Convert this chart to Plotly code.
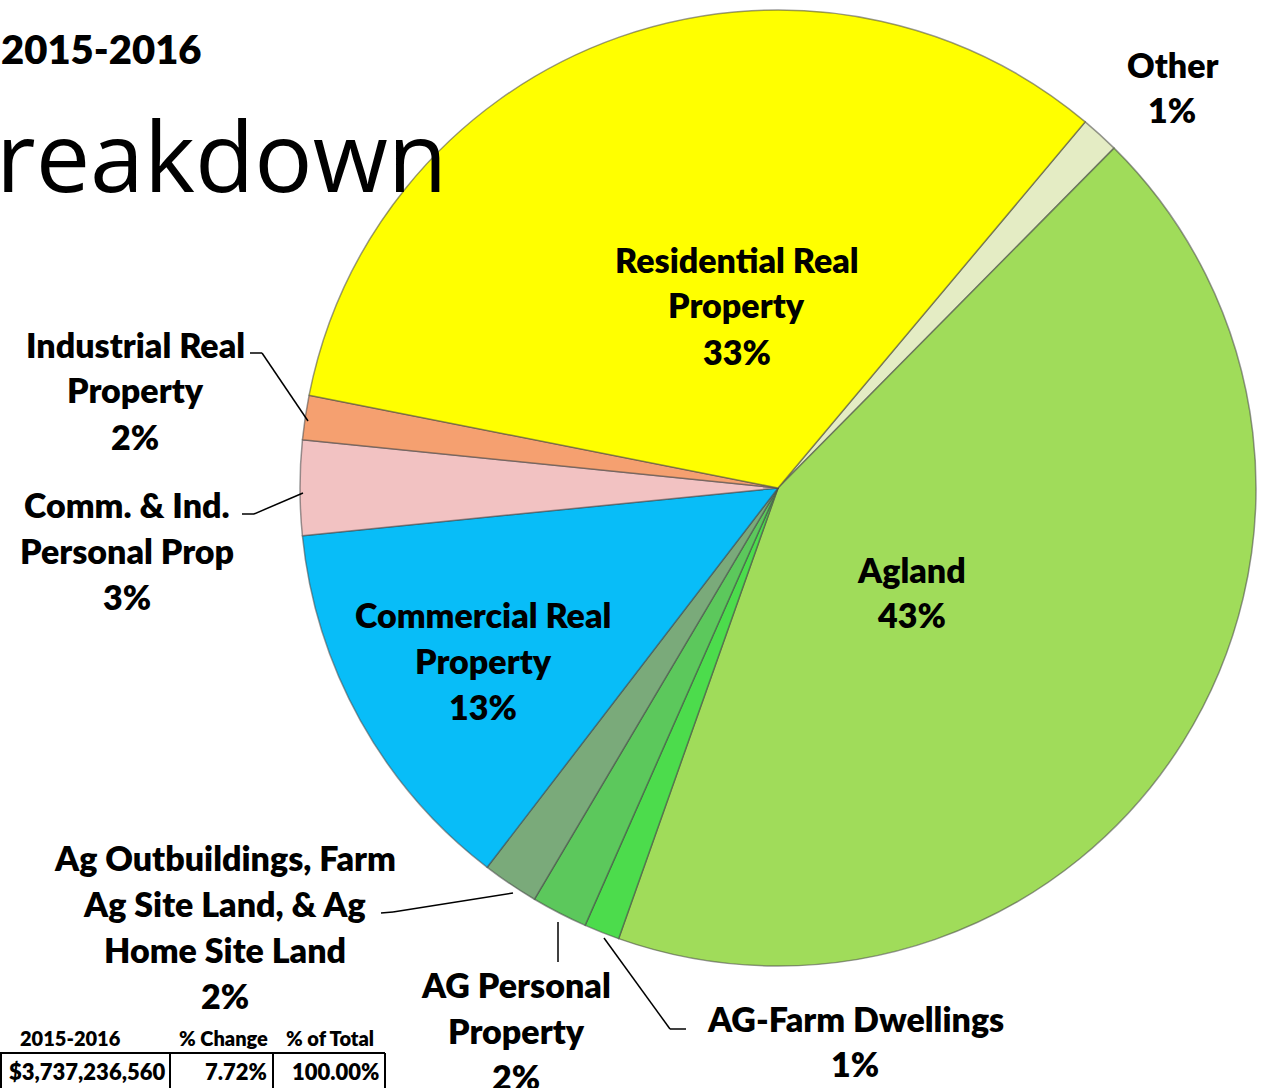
import plotly.graph_objects as go

W, H = 1272, 1088

# ---- data ----
categories = ["Other", "Agland", "AG-Farm Dwellings", "AG Personal Property",
              "Ag Outbuildings, Farm Ag Site Land, & Ag Home Site Land",
              "Commercial Real Property", "Comm. & Ind. Personal Prop",
              "Industrial Real Property", "Residential Real Property"]
values = [1.3, 43.0, 1.2, 1.9, 1.9, 13.0, 3.2, 1.5, 33.0]
pct_labels = ["1%", "43%", "1%", "2%", "2%", "13%", "3%", "2%", "33%"]
colors = ["#e4ecc4", "#a0dc5a", "#4cdc4c", "#5cc85c", "#7aaa7a",
          "#08bdf8", "#f2c2c2", "#f5a070", "#ffff00"]

table_header = ["2015-2016", "% Change", "% of Total"]
table_row = ["$3,737,236,560", "7.72%", "100.00%"]


def px(x, y):
    return x / W, 1 - y / H


fig = go.Figure()
fig.add_trace(go.Pie(
    labels=categories, values=values, sort=False, direction="clockwise",
    rotation=40, textinfo="none", hoverinfo="label+percent",
    marker=dict(colors=colors, line=dict(color="rgba(70,70,70,0.55)", width=1.5)),
    domain=dict(x=[300 / W, 1256 / W], y=[1 - 966 / H, 1 - 10 / H]),
    showlegend=False,
))

FONT = "Lato"
annos = []


def label(lines, cx, y0, size=34, step=46):
    for i, t in enumerate(lines):
        x, y = px(cx, y0 + i * step)
        annos.append(dict(x=x, y=y, xref="paper", yref="paper", text=t,
                          showarrow=False, xanchor="center", yanchor="middle",
                          font=dict(family=FONT, size=size, color="black", weight=800)))


# slice labels (name lines + percentage)
label(["Residential Real", "Property", pct_labels[8]], 737, 259)
label(["Agland", pct_labels[1]], 912, 569, step=45)
label(["Commercial Real", "Property", pct_labels[5]], 483, 614)
label(["Other", pct_labels[0]], 1172, 64, step=45)
label(["Industrial Real", "Property", pct_labels[7]], 135, 344)
label(["Comm. & Ind.", "Personal Prop", pct_labels[6]], 127, 504)
label(["Ag Outbuildings, Farm", "Ag Site Land, & Ag", "Home Site Land", pct_labels[4]], 225, 857)
label(["AG Personal", "Property", pct_labels[3]], 516, 984)
label(["AG-Farm Dwellings", pct_labels[2]], 855, 1018, step=45)

# title fragments
x, y = px(-1, 49)
annos.append(dict(x=x, y=y, xref="paper", yref="paper", text="2015-2016",
                  showarrow=False, xanchor="left", yanchor="middle",
                  font=dict(family=FONT, size=40, color="black", weight=800)))
x, y = px(-6, 154)
annos.append(dict(x=x, y=y, xref="paper", yref="paper", text="reakdown",
                  showarrow=False, xanchor="left", yanchor="middle",
                  font=dict(family="Open Sans", size=97, color="black")))

# table
hdr_x = [70, 223, 330]
for t, cx in zip(table_header, hdr_x):
    x, y = px(cx, 1038)
    annos.append(dict(x=x, y=y, xref="paper", yref="paper", text=t,
                      showarrow=False, xanchor="center", yanchor="middle",
                      font=dict(family=FONT, size=20, color="black", weight=800)))
row_right = [167, 269, 381]
for t, rx in zip(table_row, row_right):
    x, y = px(rx, 1071)
    annos.append(dict(x=x, y=y, xref="paper", yref="paper", text=t,
                      showarrow=False, xanchor="right", yanchor="middle",
                      font=dict(family=FONT, size=22, color="black", weight=800)))

shapes = []


def line(points, width=1.5):
    for (x0, y0), (x1, y1) in zip(points[:-1], points[1:]):
        a, b = px(x0, y0)
        c, d = px(x1, y1)
        shapes.append(dict(type="line", xref="paper", yref="paper", x0=a, y0=b, x1=c, y1=d,
                           line=dict(color="black", width=width)))


# leader lines
line([(250, 353), (262, 353), (308, 421)])
line([(242, 514), (254, 514), (303, 493)])
line([(381, 913), (393, 912), (513, 893)])
line([(558, 922), (558, 962)])
line([(604, 938), (670, 1029), (686, 1029)])

# table borders
line([(0, 1053), (385, 1053)], 2)
line([(1, 1053), (1, 1088)], 2)
line([(170, 1053), (170, 1088)], 2)
line([(273, 1053), (273, 1088)], 2)
line([(385, 1053), (385, 1088)], 2)

fig.update_layout(
    width=W, height=H, margin=dict(l=0, r=0, t=0, b=0),
    paper_bgcolor="white", plot_bgcolor="white",
    annotations=annos, shapes=shapes,
)

fig.write_html("out.html", config={"displayModeBar": False},
               post_script="document.body.style.margin='0';document.body.style.overflow='hidden';")
